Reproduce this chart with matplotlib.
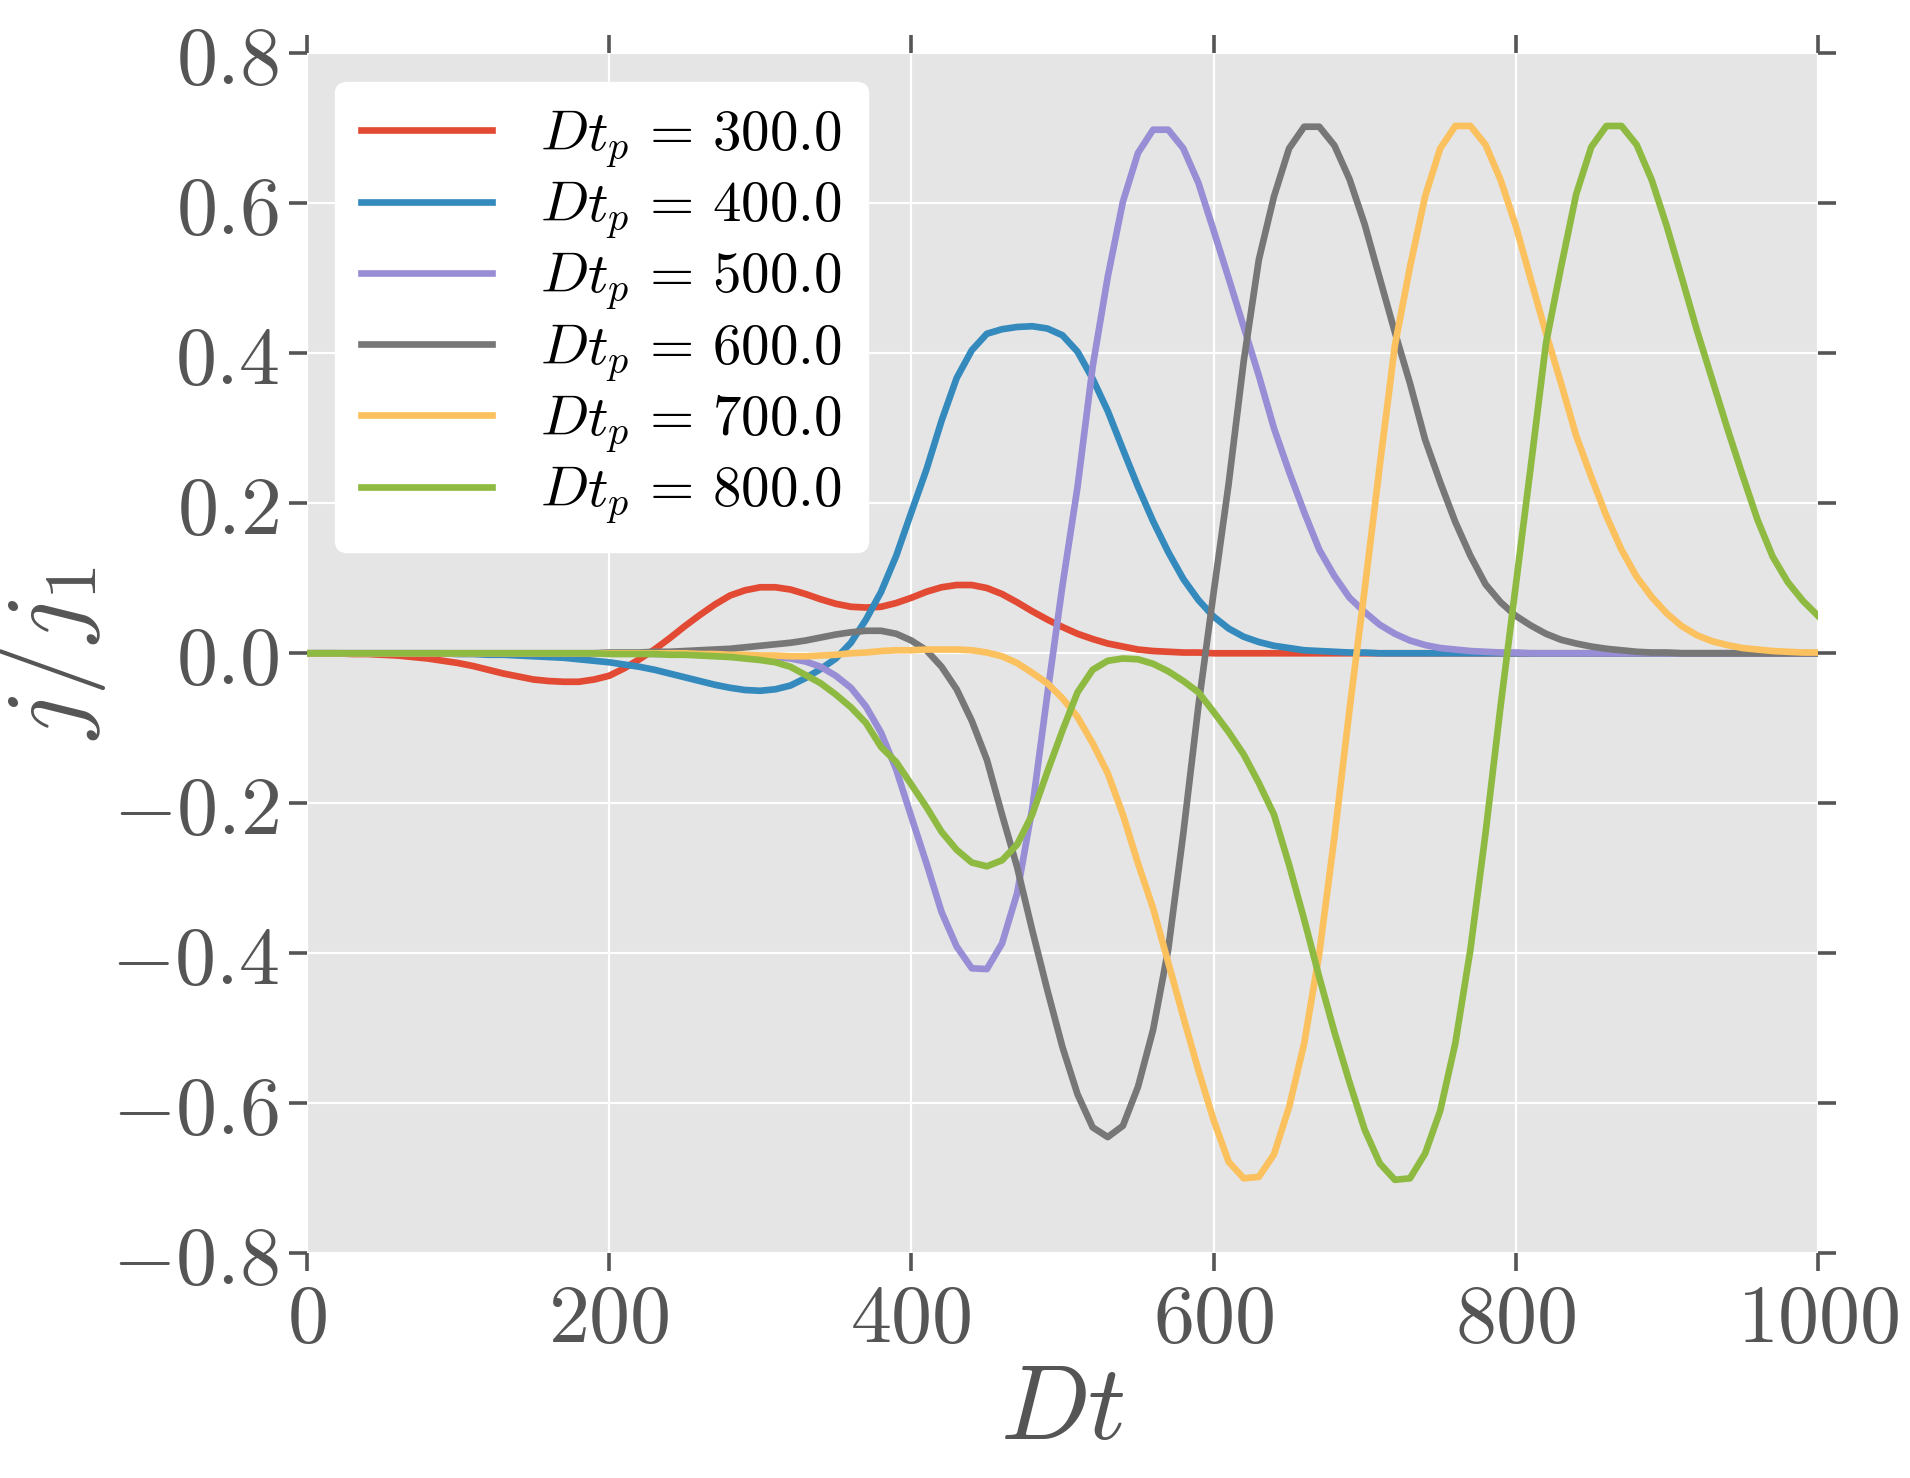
import numpy as np
import matplotlib
matplotlib.use("Agg")
import matplotlib.pyplot as plt
from matplotlib.ticker import FuncFormatter

plt.style.use("ggplot")
plt.rcParams["mathtext.fontset"] = "cm"

# sample times (Dt)
dt = np.arange(0, 1001, 10)

tp_values = [300.0, 400.0, 500.0, 600.0, 700.0, 800.0]

j_300 = [0, 0, 0, -0.001, -0.001, -0.002, -0.003, -0.005, -0.007, -0.010,
         -0.013, -0.017, -0.022, -0.027, -0.031, -0.035, -0.037, -0.038, -0.038, -0.035,
         -0.030, -0.020, -0.008, 0.005, 0.020, 0.036, 0.051, 0.065, 0.077, 0.084,
         0.088, 0.088, 0.085, 0.079, 0.072, 0.066, 0.062, 0.061, 0.062, 0.067,
         0.074, 0.082, 0.088, 0.091, 0.091, 0.087, 0.079, 0.068, 0.056, 0.045,
         0.035, 0.026, 0.019, 0.013, 0.009, 0.005, 0.003, 0.002, 0.001, 0.001,
         0, 0, 0, 0, 0, 0, 0, 0, 0, 0,
         0, 0, 0, 0, 0, 0, 0, 0, 0, 0,
         0, 0, 0, 0, 0, 0, 0, 0, 0, 0,
         0, 0, 0, 0, 0, 0, 0, 0, 0, 0, 0]

j_400 = [0, 0, 0, 0, 0, 0, 0, 0, 0, 0,
         -0.001, -0.001, -0.002, -0.002, -0.003, -0.004, -0.005, -0.006, -0.008, -0.010,
         -0.012, -0.015, -0.018, -0.022, -0.027, -0.032, -0.037, -0.042, -0.046, -0.049,
         -0.050, -0.048, -0.043, -0.033, -0.021, -0.007, 0.014, 0.045, 0.082, 0.130,
         0.188, 0.245, 0.310, 0.367, 0.404, 0.426, 0.432, 0.435, 0.436, 0.433,
         0.424, 0.402, 0.366, 0.323, 0.272, 0.222, 0.176, 0.135, 0.099, 0.071,
         0.049, 0.033, 0.022, 0.015, 0.010, 0.007, 0.004, 0.003, 0.002, 0.001,
         0.001, 0, 0, 0, 0, 0, 0, 0, 0, 0,
         0, 0, 0, 0, 0, 0, 0, 0, 0, 0,
         0, 0, 0, 0, 0, 0, 0, 0, 0, 0, 0]

j_500 = [0, 0, 0, 0, 0, 0, 0, 0, 0, 0,
         0, 0, 0, 0, 0, 0, 0, 0, 0, 0,
         0, 0, 0, -0.001, -0.001, -0.001, -0.001, -0.002, -0.002, -0.003,
         -0.004, -0.005, -0.007, -0.011, -0.018, -0.030, -0.046, -0.071, -0.106, -0.155,
         -0.218, -0.280, -0.345, -0.391, -0.420, -0.421, -0.387, -0.320, -0.207, -0.055,
         0.090, 0.222, 0.382, 0.502, 0.602, 0.667, 0.698, 0.698, 0.673, 0.627,
         0.564, 0.500, 0.435, 0.370, 0.300, 0.242, 0.188, 0.138, 0.103, 0.074,
         0.055, 0.038, 0.026, 0.017, 0.011, 0.007, 0.005, 0.003, 0.002, 0.001,
         0.001, 0, 0, 0, 0, 0, 0, 0, 0, 0,
         0, 0, 0, 0, 0, 0, 0, 0, 0, 0, 0]

j_600 = [0, 0, 0, 0, 0, 0, 0, 0, 0, 0,
         0, 0, 0, 0, 0, 0, 0, 0, 0, 0,
         0.001, 0.001, 0.001, 0.002, 0.002, 0.003, 0.004, 0.005, 0.006, 0.008,
         0.010, 0.012, 0.014, 0.017, 0.021, 0.025, 0.028, 0.030, 0.030, 0.026,
         0.017, 0.004, -0.018, -0.048, -0.090, -0.142, -0.215, -0.285, -0.369, -0.449,
         -0.525, -0.588, -0.632, -0.645, -0.630, -0.578, -0.502, -0.395, -0.240, -0.070,
         0.080, 0.226, 0.390, 0.525, 0.609, 0.673, 0.702, 0.702, 0.677, 0.632,
         0.572, 0.500, 0.428, 0.360, 0.285, 0.228, 0.175, 0.130, 0.092, 0.068,
         0.050, 0.037, 0.026, 0.018, 0.013, 0.009, 0.006, 0.004, 0.002, 0.001,
         0.001, 0, 0, 0, 0, 0, 0, 0, 0, 0, 0]

j_700 = [0, 0, 0, 0, 0, 0, 0, 0, 0, 0,
         0, 0, 0, 0, 0, 0, 0, 0, 0, 0,
         0, 0, 0, 0, 0, 0, -0.001, -0.001, -0.002, -0.002,
         -0.003, -0.003, -0.004, -0.004, -0.003, -0.002, 0.000, 0.001, 0.003, 0.004,
         0.004, 0.005, 0.005, 0.005, 0.004, 0.001, -0.004, -0.013, -0.026, -0.040,
         -0.060, -0.085, -0.120, -0.160, -0.215, -0.280, -0.340, -0.412, -0.485, -0.556,
         -0.622, -0.678, -0.700, -0.698, -0.668, -0.605, -0.520, -0.400, -0.245, -0.075,
         0.085, 0.250, 0.410, 0.515, 0.609, 0.673, 0.703, 0.703, 0.678, 0.631,
         0.570, 0.498, 0.427, 0.360, 0.290, 0.235, 0.183, 0.138, 0.102, 0.075,
         0.053, 0.036, 0.024, 0.016, 0.011, 0.007, 0.005, 0.003, 0.002, 0.001, 0.001]

j_800 = [0, 0, 0, 0, 0, 0, 0, 0, 0, 0,
         0, 0, 0, 0, 0, 0, 0, 0, 0, 0,
         -0.001, -0.001, -0.001, -0.001, -0.002, -0.002, -0.003, -0.004, -0.005, -0.007,
         -0.009, -0.012, -0.018, -0.029, -0.040, -0.055, -0.072, -0.093, -0.125, -0.145,
         -0.175, -0.205, -0.238, -0.262, -0.279, -0.284, -0.276, -0.255, -0.215, -0.158,
         -0.103, -0.052, -0.022, -0.010, -0.007, -0.008, -0.014, -0.024, -0.037, -0.052,
         -0.078, -0.105, -0.135, -0.173, -0.215, -0.282, -0.355, -0.432, -0.505, -0.572,
         -0.635, -0.680, -0.702, -0.700, -0.667, -0.610, -0.520, -0.395, -0.240, -0.070,
         0.090, 0.250, 0.413, 0.515, 0.612, 0.675, 0.703, 0.703, 0.678, 0.631,
         0.569, 0.500, 0.430, 0.365, 0.300, 0.238, 0.178, 0.129, 0.095, 0.070, 0.050]

series = [j_300, j_400, j_500, j_600, j_700, j_800]

x_ticks = [0, 200, 400, 600, 800, 1000]
y_ticks = [-0.8, -0.6, -0.4, -0.2, 0.0, 0.2, 0.4, 0.6, 0.8]

DPI = 200
fig = plt.figure(figsize=(1910 / DPI, 1478 / DPI), dpi=DPI)
ax = fig.add_axes([0.1607, 0.152, 0.9518 - 0.1607, 0.964 - 0.152])

for tp, vals in zip(tp_values, series):
    ax.plot(dt, vals, lw=2.4, label=r"$Dt_p\,=\,%.1f$" % tp)

ax.set_xlim(0, 1000)
ax.set_ylim(-0.8, 0.8)
ax.set_xticks(x_ticks)
ax.set_yticks(y_ticks)
ax.xaxis.set_major_formatter(FuncFormatter(lambda v, p: r"$%d$" % round(v)))
ax.yaxis.set_major_formatter(FuncFormatter(lambda v, p: r"$%.1f$" % v))

ax.tick_params(axis="both", which="major", direction="out", length=6.5, width=1.3,
               color="#555555", labelcolor="#555555", labelsize=29.5,
               top=True, right=True, labeltop=False, labelright=False)
ax.tick_params(axis="y", pad=3.5)
ax.tick_params(axis="x", pad=3)
ax.grid(True, color="white", lw=0.8)
ax.set_facecolor("#E5E5E5")
for s in ax.spines.values():
    s.set_visible(False)

ax.set_xlabel(r"$Dt$", fontsize=38, color="#555555", labelpad=0)
ax.set_ylabel(r"$j/j_1$", fontsize=38, color="#555555", labelpad=1)

leg = ax.legend(loc="upper left", fontsize=20.5, frameon=True, fancybox=True,
                facecolor="white", edgecolor="white", framealpha=1.0,
                handlelength=2.3, handletextpad=0.85, labelspacing=0.15,
                borderpad=0.45, borderaxespad=0.5)

fig.savefig("out.png", dpi=DPI)
